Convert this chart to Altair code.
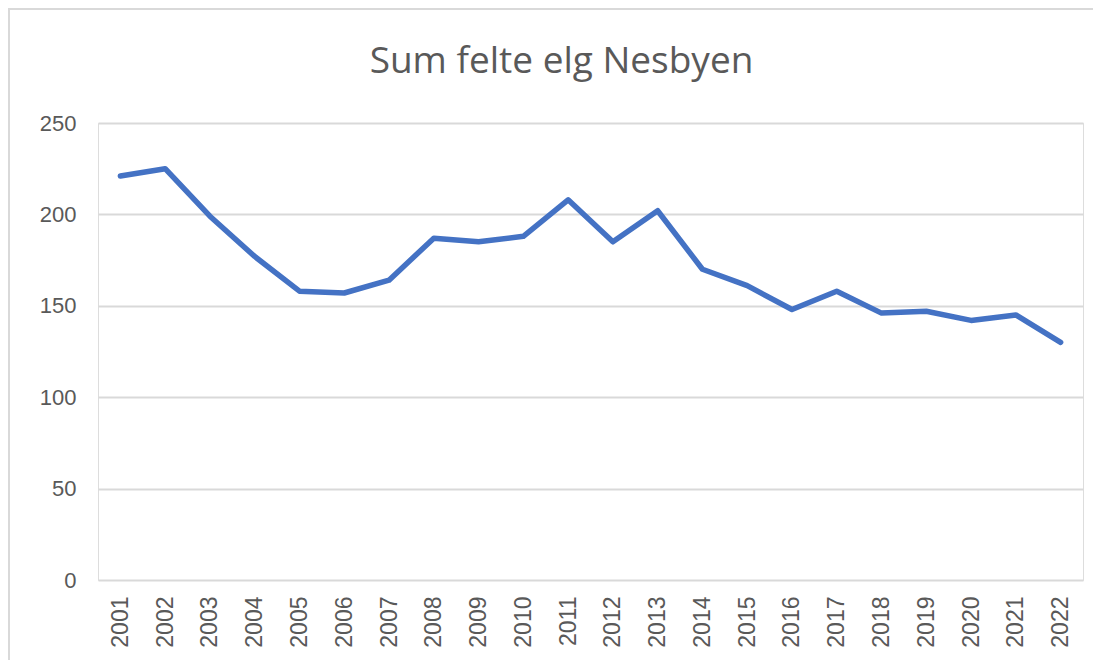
import altair as alt
import pandas as pd

years = [str(y) for y in range(2001, 2023)]
values = [221, 225, 199, 177, 158, 157, 164, 187, 185, 188, 208,
          185, 202, 170, 161, 148, 158, 146, 147, 142, 145, 130]

df = pd.DataFrame({"year": years, "value": values})

line = alt.Chart(df).mark_line(color="#4472C4", strokeWidth=5.5, strokeJoin="round", strokeCap="round").encode(
    x=alt.X("year:O", sort=years, title=None,
            axis=alt.Axis(labelAngle=-90, labelAlign="right", labelBaseline="middle",
                          labelPadding=16, ticks=False, domain=False, grid=False,
                          labelFontSize=23, labelColor="#595959", labelFont="Liberation Sans")),
    y=alt.Y("value:Q", title=None, scale=alt.Scale(domain=[0, 250], nice=False),
            axis=alt.Axis(values=[0, 50, 100, 150, 200, 250], ticks=False, domain=False,
                          gridColor="#D9D9D9", gridWidth=2, labelPadding=22,
                          labelFontSize=22, labelColor="#595959", labelFont="Liberation Sans")),
)

frame = alt.Chart(df).mark_rect(fill=None, stroke="#D9D9D9", strokeWidth=2, clip=False).encode(
    x=alt.value(-89), x2=alt.value(1000), y=alt.value(-114), y2=alt.value(560)
)

chart = alt.layer(frame, line).properties(
    width=985, height=457,
    autosize=alt.AutoSizeParams(type="none"),
    padding={"left": 90, "top": 115, "right": 10, "bottom": 80},
    title=alt.TitleParams("Sum felte elg Nesbyen", fontSize=37, font="Open Sans",
                          fontWeight="normal", color="#595959", anchor="middle",
                          baseline="alphabetic", dx=-29, offset=-102),
).configure_view(stroke=None).configure(background="white")

chart.save("out.html", embed_options={"renderer": "svg", "actions": False})
